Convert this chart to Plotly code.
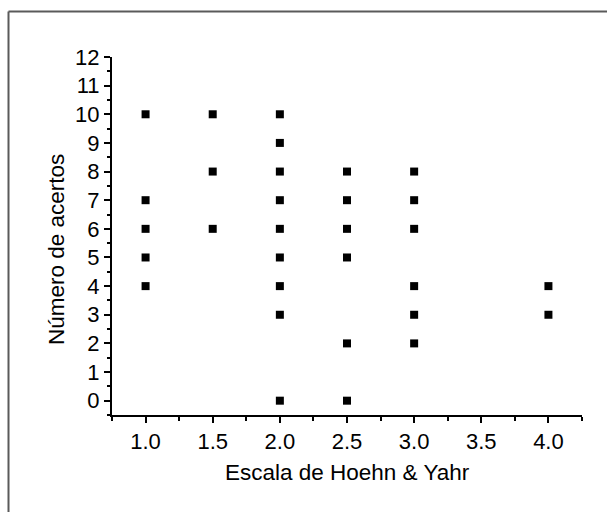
import plotly.graph_objects as go

# Data
hy_stage = [1.0, 1.0, 1.0, 1.0, 1.0,
            1.5, 1.5, 1.5,
            2.0, 2.0, 2.0, 2.0, 2.0, 2.0, 2.0, 2.0, 2.0,
            2.5, 2.5, 2.5, 2.5, 2.5, 2.5,
            3.0, 3.0, 3.0, 3.0, 3.0, 3.0,
            4.0, 4.0]
acertos = [10, 7, 6, 5, 4,
           10, 8, 6,
           10, 9, 8, 7, 6, 5, 4, 3, 0,
           8, 7, 6, 5, 2, 0,
           8, 7, 6, 4, 3, 2,
           4, 3]
x_ticks = [1.0, 1.5, 2.0, 2.5, 3.0, 3.5, 4.0]
x_tick_labels = ["1.0", "1.5", "2.0", "2.5", "3.0", "3.5", "4.0"]
y_ticks = list(range(0, 13))

FONT = "Liberation Sans, Arial, Helvetica, sans-serif"
W, H = 607, 512
L, R, T, B = 112, 25, 57, 97
pw, ph = W - L - R, H - T - B

def px_x(px):
    return (px - L) / pw

def px_y(py):
    return (H - B - py) / ph

fig = go.Figure()
fig.add_trace(go.Scatter(
    x=hy_stage, y=acertos, mode="markers",
    marker=dict(symbol="square", size=8, color="black", line=dict(width=0)),
    showlegend=False, cliponaxis=False,
))

axis_common = dict(
    showline=True, linecolor="black", linewidth=2,
    ticks="outside", ticklen=6, tickwidth=1.5, tickcolor="black",
    showgrid=False, zeroline=False,
    tickfont=dict(family=FONT, size=22, color="black"),
)

fig.update_xaxes(
    range=[0.75, 4.25], tickvals=x_ticks, ticktext=x_tick_labels,
    minor=dict(ticks="outside", ticklen=4, tickwidth=1.5, tickcolor="black",
               tickvals=[0.75, 1.25, 1.75, 2.25, 2.75, 3.25, 3.75, 4.25]),
    **axis_common,
)
fig.update_yaxes(
    range=[-0.5, 12], tickvals=y_ticks,
    minor=dict(ticks="outside", ticklen=3, tickwidth=1.5, tickcolor="black",
               tickvals=[v + 0.5 for v in range(-1, 12)]),
    **axis_common,
)

fig.add_annotation(
    text="Escala de Hoehn & Yahr", xref="paper", yref="paper",
    x=0.5, y=px_y(472), xanchor="center", yanchor="middle",
    showarrow=False, font=dict(family=FONT, size=22.5, color="black"),
)
fig.add_annotation(
    text="Número de acertos", xref="paper", yref="paper",
    x=px_x(56), y=px_y(250), xanchor="center", yanchor="middle",
    textangle=-90, showarrow=False,
    font=dict(family=FONT, size=22.5, color="black"),
)

# Outer frame (top and left edges visible)
border = dict(color="#5a5a5a", width=2)
fig.add_shape(type="line", xref="paper", yref="paper",
              x0=px_x(8.5), y0=px_y(11.5), x1=px_x(W + 5), y1=px_y(11.5), line=border)
fig.add_shape(type="line", xref="paper", yref="paper",
              x0=px_x(8.5), y0=px_y(11.5), x1=px_x(8.5), y1=px_y(H + 5), line=border)

fig.update_layout(
    width=W, height=H,
    margin=dict(l=L, r=R, t=T, b=B),
    paper_bgcolor="white", plot_bgcolor="white",
    font=dict(family=FONT, color="black"),
)

fig.write_html("out.html")
